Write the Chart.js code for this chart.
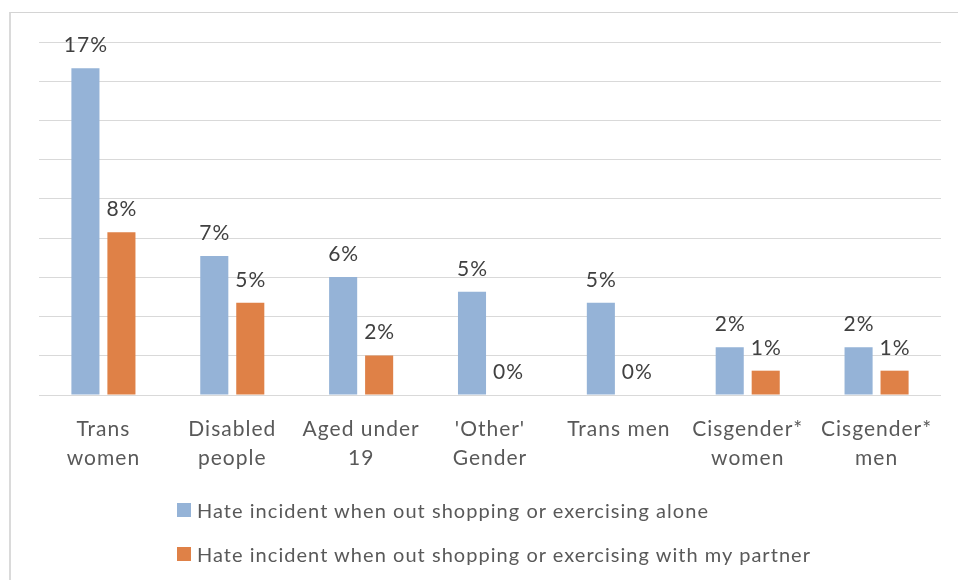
<!DOCTYPE html>
<html><head><meta charset="utf-8">
<script src="https://cdn.jsdelivr.net/npm/chart.js@4"></script>
<style>
html,body{margin:0;padding:0;background:#fff;}
#wrap{position:relative;width:958px;height:580px;overflow:hidden;background:#fff;}
#frame{position:absolute;left:9px;top:12px;width:2000px;height:2000px;border-top:1px solid #d4d4d4;border-left:2px solid #dadada;}
canvas{position:absolute;left:0;top:0;}
#legend{position:absolute;left:177px;top:0;font-family:Lato;font-size:20px;color:#595959;letter-spacing:1.04px;}
.item{position:absolute;left:0;white-space:nowrap;display:flex;align-items:center;height:24px;line-height:24px;}
.sw{width:14px;height:14px;margin-right:6px;flex:none;}
</style></head><body>
<div id="wrap"><div id="frame"></div><canvas id="c" width="958" height="580"></canvas><div id="legend"></div></div>
<script>
const categories = [["Trans","women"],["Disabled","people"],["Aged under","19"],["'Other'","Gender"],["Trans men"],["Cisgender*","women"],["Cisgender*","men"]];
const seriesNames = ["Hate incident when out shopping or exercising alone","Hate incident when out shopping or exercising with my partner"];
const aloneValues = [16.66, 7.09, 6.02, 5.26, 4.7, 2.44, 2.44];
const partnerValues = [8.3, 4.7, 2.02, 0, 0, 1.24, 1.24];
const seriesColors = ["#95B3D7", "#DF8147"];
const yMin = 0, yMax = 18, yStep = 2;

const spacing = {
  id: 'spacing',
  beforeDraw(chart) { chart.ctx.letterSpacing = '1px'; }
};

const valueLabels = {
  id: 'valueLabels',
  afterDatasetsDraw(chart) {
    const ctx = chart.ctx;
    ctx.save();
    ctx.letterSpacing = '1px';
    ctx.font = '21px Lato';
    ctx.fillStyle = '#404040';
    ctx.textAlign = 'center';
    ctx.textBaseline = 'alphabetic';
    chart.data.datasets.forEach((ds, i) => {
      chart.getDatasetMeta(i).data.forEach((el, j) => {
        ctx.fillText(Math.round(ds.data[j]) + '%', el.x + 0.5, el.y - 16);
      });
    });
    ctx.restore();
  }
};

new Chart(document.getElementById('c'), {
  type: 'bar',
  data: {
    labels: categories,
    datasets: [
      { label: seriesNames[0], data: aloneValues, backgroundColor: seriesColors[0] },
      { label: seriesNames[1], data: partnerValues, backgroundColor: seriesColors[1] }
    ]
  },
  options: {
    responsive: false,
    animation: false,
    devicePixelRatio: 1,
    categoryPercentage: 0.5586,
    barPercentage: 0.78,
    layout: { padding: { left: 39, right: 17, top: 42, bottom: 0 } },
    plugins: { legend: { display: false }, tooltip: { enabled: false } },
    scales: {
      x: {
        grid: { display: false, drawTicks: false },
        border: { display: false },
        ticks: { font: { family: 'Lato', size: 21, lineHeight: 1.414 }, color: '#595959', padding: 19, maxRotation: 0, autoSkip: false },
        afterFit(s) { s.height = 185; }
      },
      y: {
        min: yMin, max: yMax,
        ticks: { display: false, stepSize: yStep },
        grid: { color: '#d9d9d9', drawTicks: false, lineWidth: 1 },
        border: { display: false },
        afterFit(s) { s.width = 0; }
      }
    }
  },
  plugins: [spacing, valueLabels]
});

const legend = document.getElementById('legend');
const legendTops = [498, 542];
seriesNames.forEach((n, i) => {
  const d = document.createElement('div');
  d.className = 'item';
  d.style.top = legendTops[i] + 'px';
  const sw = document.createElement('span');
  sw.className = 'sw';
  sw.style.background = seriesColors[i];
  const t = document.createElement('span');
  t.textContent = n;
  d.appendChild(sw); d.appendChild(t);
  legend.appendChild(d);
});
</script>
</body></html>
